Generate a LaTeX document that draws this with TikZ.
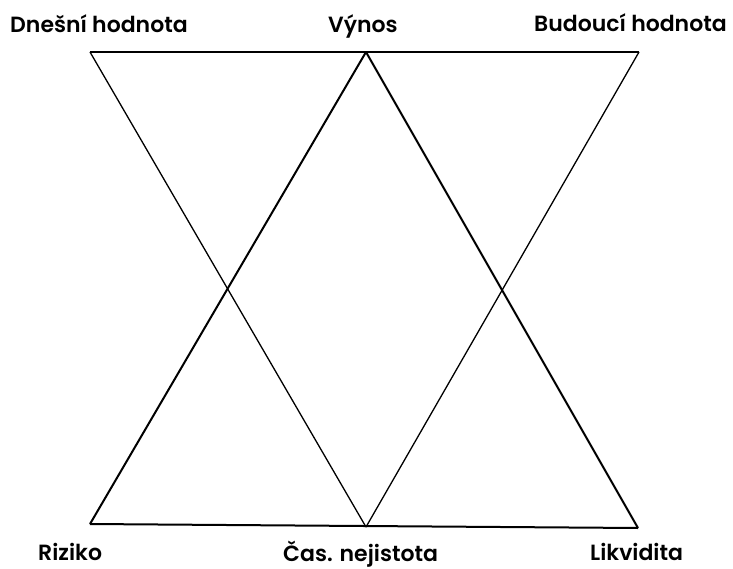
\documentclass[tikz,border=0pt]{standalone}
\usepackage{fontspec}
\setmainfont{Poppins}[BoldFont=Poppins SemiBold]
\usepackage{tikz}
\usetikzlibrary{positioning}

\begin{document}
\begin{tikzpicture}[x=1pt,y=-1pt,
    lbl/.style={font=\bfseries\fontsize{22}{26}\selectfont, inner sep=0pt, anchor=base west},
    thin edge/.style={line width=1.3pt},
    thick edge/.style={line width=2pt}]
\useasboundingbox (0,0) rectangle (733,569);

% corners
\coordinate (dnes) at (90,52);
\coordinate (vynos) at (366,52);
\coordinate (bud) at (639,52);
\coordinate (riz) at (90,524);
\coordinate (cas) at (366,527);
\coordinate (likv) at (638,528);

% labels
\node[lbl] (ldnes) at (10,33) {Dnešní hodnota};
\node[lbl] (lvynos) at (328,33) {Výnos};
\node[lbl] (lbud) at (534,32) {Budoucí hodnota};
\node[lbl] (lriz) at (38,560) {Riziko};
\node[lbl] (lcas) at (283,561) {Čas. nejistota};
\node[lbl] (llikv) at (590,560) {Likvidita};

% falling triangle
\draw[thin edge] (dnes) -- (bud);
\draw[thin edge] (dnes) -- (cas);
\draw[thin edge] (bud) -- (cas);

% rising triangle
\draw[thick edge] (riz) -- (vynos);
\draw[thick edge] (vynos) -- (likv);
\draw[thick edge] (riz) -- (likv);

\end{tikzpicture}
\end{document}
